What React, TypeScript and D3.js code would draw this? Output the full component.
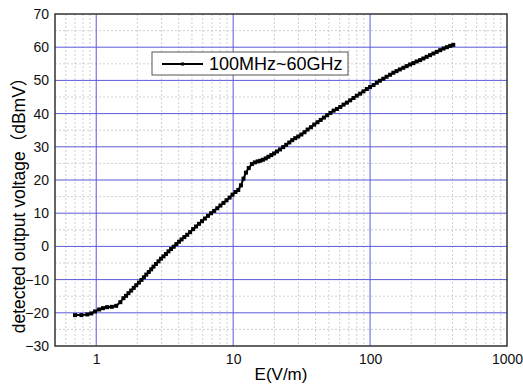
import React, { useRef, useEffect } from "react";
import * as d3 from "d3";

// field strength E (V/m)
const eField = [
    0.70, 0.78, 0.86, 0.92, 0.98, 1.05, 1.12, 1.20, 1.30, 1.40,
    1.50, 1.58, 1.65, 1.72, 1.80, 1.88, 1.96, 2.05, 2.14, 2.23,
    2.32, 2.42, 2.52, 2.62, 2.73, 2.85, 2.97, 3.10, 3.23, 3.37,
    3.52, 3.68, 3.85, 4.02, 4.20, 4.40, 4.62, 4.85, 5.10, 5.36,
    5.63, 5.92, 6.22, 6.55, 6.90, 7.27, 7.66, 8.07, 8.50, 8.95,
    9.42, 9.90, 10.4, 10.9, 11.4, 11.9, 12.4, 13.0, 13.7, 14.4,
    15.1, 15.8, 16.5, 17.3, 18.1, 19.0, 19.9, 20.9, 22.0, 23.2,
    24.4, 25.7, 27.0, 28.4, 29.9, 31.5, 33.2, 35.0, 37.0, 39.1,
    41.3, 43.6, 46.0, 48.6, 51.3, 54.2, 57.3, 60.6, 64.0, 67.7,
    71.6, 75.7, 80.0, 84.6, 89.5, 94.7, 100, 106, 112, 118,
    125, 132, 140, 148, 156, 165, 175, 185, 196, 207,
    219, 232, 245, 259, 274, 290, 307, 325, 344, 364,
    385, 405
];

// detected output voltage (dBmV)
const vOut = [
    -20.7, -20.7, -20.5, -20.2, -19.6, -19.0, -18.6, -18.3, -18.2, -17.9,
    -16.8, -15.6, -14.9, -14.1, -13.3, -12.5, -11.7, -10.9, -10.1, -9.3,
    -8.5, -7.7, -6.9, -6.1, -5.3, -4.5, -3.7, -3.0, -2.3, -1.5,
    -0.8, -0.1, 0.7, 1.4, 2.1, 2.8, 3.5, 4.3, 5.2, 6.0,
    6.8, 7.6, 8.4, 9.2, 10.0, 10.7, 11.5, 12.3, 13.1, 13.9,
    14.7, 15.6, 16.4, 17.0, 18.4, 20.4, 22.2, 23.6, 24.8, 25.3,
    25.6, 25.8, 26.1, 26.5, 27.0, 27.5, 28.0, 28.6, 29.2, 29.9,
    30.6, 31.3, 32.0, 32.6, 33.1, 33.7, 34.4, 35.2, 35.9, 36.7,
    37.4, 38.1, 38.8, 39.5, 40.2, 40.9, 41.4, 42.0, 42.7, 43.3,
    44.0, 44.7, 45.4, 46.0, 46.7, 47.4, 48.0, 48.6, 49.3, 49.9,
    50.5, 51.1, 51.7, 52.3, 52.8, 53.3, 53.8, 54.3, 54.8, 55.2,
    55.7, 56.1, 56.6, 57.1, 57.6, 58.1, 58.6, 59.1, 59.6, 60.0,
    60.4, 60.7
];

const xTicks = [1, 10, 100, 1000];
const yTicks = [-30, -20, -10, 0, 10, 20, 30, 40, 50, 60, 70];
const legendLabel = "100MHz~60GHz";
const xLabel = "E(V/m)";
const yLabel = "detected output voltage（dBmV）";

const width = 523;
const height = 385;
const margin = { top: 14, right: 16, bottom: 39, left: 55 };
const font = "'Liberation Sans', Arial, 'Noto Sans CJK SC', sans-serif";

const App = () => {
    const svgRef = useRef(null);

    useEffect(() => {
        const svg = d3.select(svgRef.current);
        svg.selectAll("*").remove();

        const pw = width - margin.left - margin.right;
        const ph = height - margin.top - margin.bottom;

        const xScale = d3.scaleLog().domain([0.5, 1000]).range([0, pw]);
        const yScale = d3.scaleLinear().domain([-30, 70]).range([ph, 0]);

        const g = svg.append("g")
            .attr("transform", `translate(${margin.left}, ${margin.top})`);

        // minor grid (dotted gray)
        const xMinor = [];
        [0.1, 1, 10, 100].forEach(dec => {
            for (let k = 2; k <= 9; k++) {
                const v = dec * k;
                if (v > 0.5 && v < 1000) xMinor.push(v);
            }
        });
        const yMinor = d3.range(-25, 70, 10);

        g.selectAll(".xMinor")
            .data(xMinor)
            .join("line")
            .attr("x1", d => xScale(d)).attr("x2", d => xScale(d))
            .attr("y1", 0).attr("y2", ph)
            .attr("stroke", "#c4c4c4")
            .attr("stroke-width", 0.8)
            .attr("stroke-dasharray", "2,2");

        g.selectAll(".yMinor")
            .data(yMinor)
            .join("line")
            .attr("y1", d => yScale(d)).attr("y2", d => yScale(d))
            .attr("x1", 0).attr("x2", pw)
            .attr("stroke", "#c4c4c4")
            .attr("stroke-width", 0.8)
            .attr("stroke-dasharray", "2,2");

        // major grid (blue)
        g.append("g").selectAll("line")
            .data(xTicks.slice(0, 3))
            .join("line")
            .attr("x1", d => xScale(d)).attr("x2", d => xScale(d))
            .attr("y1", 0).attr("y2", ph)
            .attr("stroke", "#5b5bdc")
            .attr("stroke-width", 1);

        g.append("g").selectAll("line")
            .data(yTicks.slice(1, -1))
            .join("line")
            .attr("y1", d => yScale(d)).attr("y2", d => yScale(d))
            .attr("x1", 0).attr("x2", pw)
            .attr("stroke", "#5b5bdc")
            .attr("stroke-width", 1);

        // frame
        g.append("rect")
            .attr("x", 0).attr("y", 0)
            .attr("width", pw).attr("height", ph)
            .attr("fill", "none")
            .attr("stroke", "#333")
            .attr("stroke-width", 1.5);

        // axes labels
        const xAxis = d3.axisBottom(xScale)
            .tickValues(xTicks)
            .tickFormat(d3.format("d"))
            .tickSize(0)
            .tickPadding(8);
        const xg = g.append("g")
            .attr("transform", `translate(0, ${ph})`)
            .call(xAxis);
        xg.select(".domain").remove();
        xg.selectAll("text")
            .attr("font-family", font)
            .attr("font-size", 14)
            .attr("fill", "#111");

        const yAxis = d3.axisLeft(yScale)
            .tickValues(yTicks)
            .tickSize(0)
            .tickPadding(6);
        const yg = g.append("g").call(yAxis);
        yg.select(".domain").remove();
        yg.selectAll("text")
            .attr("font-family", font)
            .attr("font-size", 14)
            .attr("fill", "#111");

        // data line
        const pts = eField.map((e, i) => ({ x: e, y: vOut[i] }));
        const line = d3.line()
            .x(d => xScale(d.x))
            .y(d => yScale(d.y));

        g.append("path")
            .datum(pts)
            .attr("d", line)
            .attr("fill", "none")
            .attr("stroke", "#000")
            .attr("stroke-width", 2);

        g.selectAll(".pt")
            .data(pts)
            .join("rect")
            .attr("x", d => xScale(d.x) - 2)
            .attr("y", d => yScale(d.y) - 2)
            .attr("width", 4)
            .attr("height", 4)
            .attr("fill", "#000");

        // legend
        const lg = svg.append("g").attr("transform", "translate(152, 52)");
        lg.append("rect")
            .attr("x", 0).attr("y", 0)
            .attr("width", 196).attr("height", 23)
            .attr("fill", "#fff")
            .attr("stroke", "#555")
            .attr("stroke-width", 1);
        lg.append("line")
            .attr("x1", 10).attr("x2", 51)
            .attr("y1", 12).attr("y2", 12)
            .attr("stroke", "#000")
            .attr("stroke-width", 2);
        lg.append("rect")
            .attr("x", 29).attr("y", 10.5)
            .attr("width", 3).attr("height", 3)
            .attr("fill", "#000");
        lg.append("text")
            .attr("x", 57).attr("y", 18)
            .attr("font-family", font)
            .attr("font-size", 18)
            .attr("fill", "#000")
            .text(legendLabel);

        // axis titles
        svg.append("text")
            .attr("x", margin.left + pw / 2)
            .attr("y", 380)
            .attr("text-anchor", "middle")
            .attr("font-family", font)
            .attr("font-size", 17)
            .attr("fill", "#000")
            .text(xLabel);

        svg.append("text")
            .attr("transform", "translate(25, 201) rotate(-90)")
            .attr("text-anchor", "middle")
            .attr("font-family", font)
            .attr("font-size", 17.5)
            .attr("fill", "#000")
            .text(yLabel);
    }, []);

    return (
        <div style={{ position: "absolute", left: 0, top: 0 }}>
            <svg ref={svgRef} width={width} height={height}></svg>
        </div>
    );
};

export default App;
